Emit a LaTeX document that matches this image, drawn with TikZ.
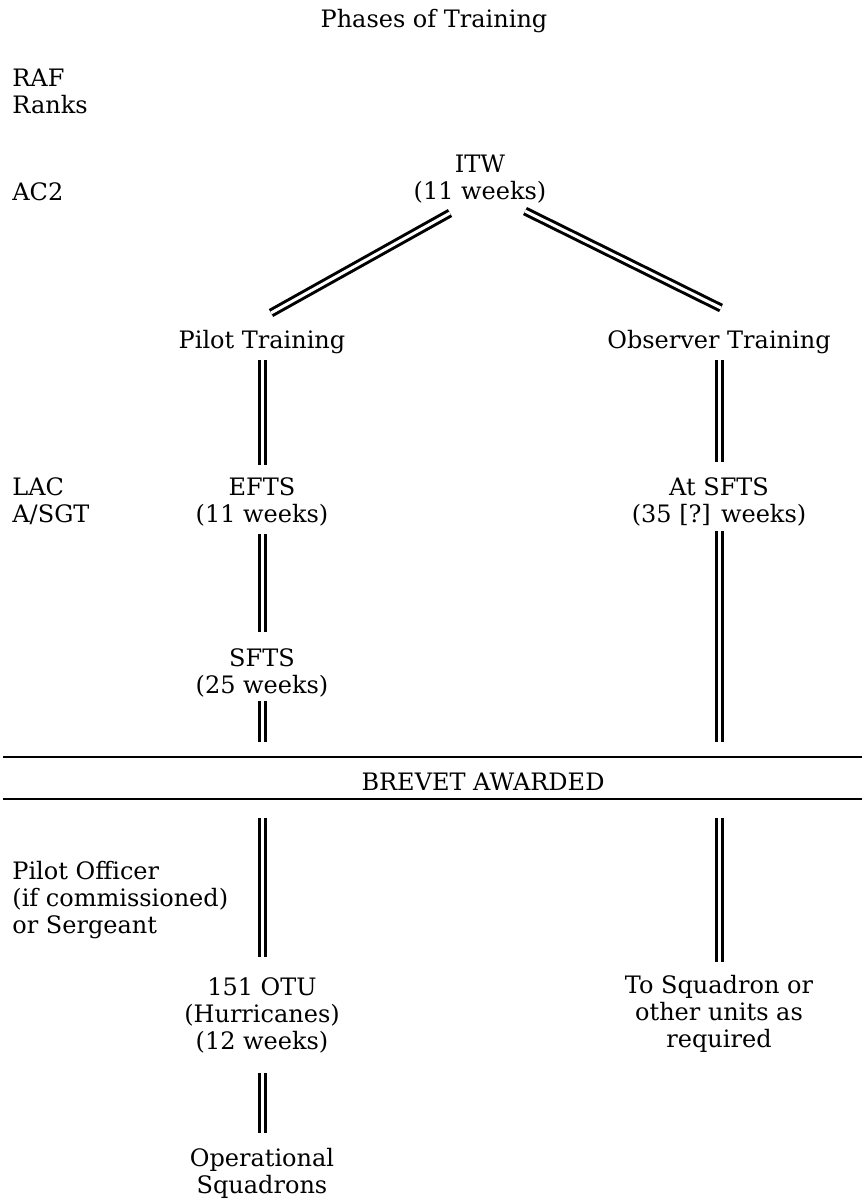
\documentclass[tikz,border=0pt]{standalone}
\usepackage{fontspec}
\setmainfont{DejaVu Serif}

\begin{document}
\begin{tikzpicture}[x=0.5pt, y=-0.5pt,
    every node/.style = {inner sep=0, font=\fontsize{12}{13.5}\selectfont},
    phase/.style = {align=center, anchor=north},
    rank/.style = {align=left, anchor=north west},
    dbl/.style = {double, double distance=1.5pt, line width=1.5pt},
    rule/.style = {line width=0.8pt}]
    \useasboundingbox (0,0) rectangle (862,1200);
    \node[phase] (title) at (434,9) {Phases of Training};
    % ranks down the left side
    \node[rank] (raf) at (12,69) {RAF\\Ranks};
    \node[rank] (ac2) at (12,182) {AC2};
    \node[rank] (lac) at (12,477) {LAC\\A/SGT};
    \node[rank] (po) at (12,861) {Pilot Officer\\(if commissioned)\\or Sergeant};
    % phases
    \node[phase] (itw) at (480,155) {ITW\\(11 weeks)};
    \node[phase] (pilot) at (262,330) {Pilot Training};
    \node[phase] (obs) at (719,330) {Observer Training};
    \node[phase] (efts) at (262,477) {EFTS\\(11 weeks)};
    \node[phase] (atsfts) at (719,477) {At SFTS\\(35 [?] weeks)};
    \node[phase] (sfts) at (262,648) {SFTS\\(25 weeks)};
    \node[phase] (brevet) at (483,773) {BREVET AWARDED};
    \node[phase] (otu) at (262,977) {151 OTU\\(Hurricanes)\\(12 weeks)};
    \node[phase] (tosq) at (719,975) {To Squadron or\\other units as\\required};
    \node[phase] (ops) at (262,1148) {Operational\\Squadrons};
    % the brevet band
    \coordinate (ruleA) at (3,757);
    \coordinate (ruleB) at (3,799);
    \draw[rule] (ruleA) -- ++(859,0);
    \draw[rule] (ruleB) -- ++(859,0);
    % connectors
    \draw[dbl] ([xshift=-15pt,yshift=-4.5pt]itw.south) -- ([xshift=4.5pt,yshift=8.5pt]pilot.north);
    \draw[dbl] ([xshift=22.5pt,yshift=-3.5pt]itw.south) -- ([xshift=1pt,yshift=11pt]obs.north);
    \draw[dbl, shorten <=3pt, shorten >=6pt] (pilot.south) -- (efts.north);
    \draw[dbl, shorten <=4pt, shorten >=8pt] (efts.south) -- (sfts.north);
    \draw[dbl, shorten <=2pt, shorten >=7.5pt] (sfts.south) -- (sfts.south |- ruleA);
    \draw[dbl, shorten <=3pt, shorten >=7.5pt] (obs.south) -- (atsfts.north);
    \draw[dbl, shorten <=2.5pt, shorten >=7.5pt] (atsfts.south) -- (atsfts.south |- ruleA);
    \draw[dbl, shorten <=9.5pt, shorten >=10pt] (otu.north |- ruleB) -- (otu.north);
    \draw[dbl, shorten <=9.5pt, shorten >=6.5pt] (tosq.north |- ruleB) -- (tosq.north);
    \draw[dbl, shorten <=10pt, shorten >=7.5pt] (otu.south) -- (ops.north);
\end{tikzpicture}
\end{document}
